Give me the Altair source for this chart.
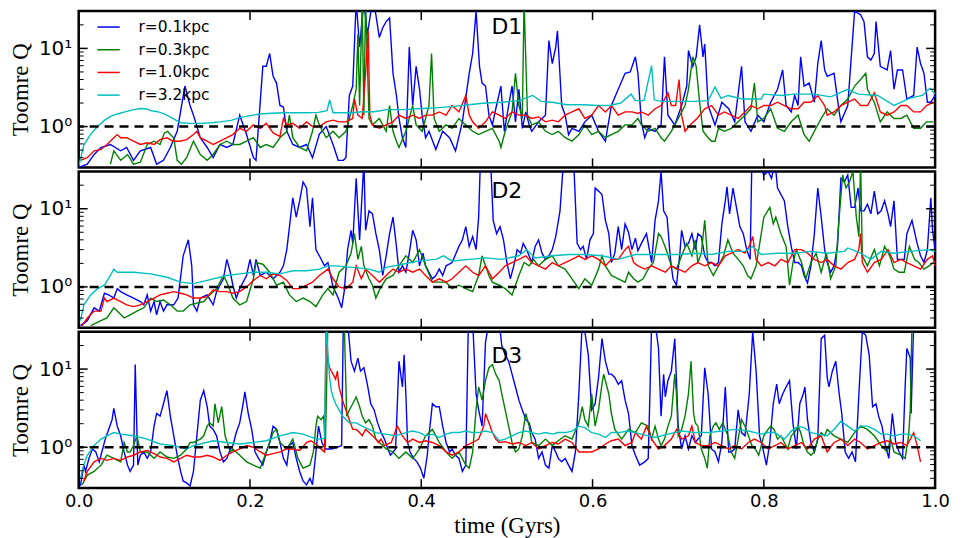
import altair as alt
import pandas as pd

SERIES = ["r=0.1kpc", "r=0.3kpc", "r=1.0kpc", "r=3.2kpc"]
COLORS = ["#0000ff", "#008000", "#ff0000", "#00bfbf"]
PANEL_NAMES = ["D1", "D2", "D3"]
X_LABELS = [0.0, 0.2, 0.4, 0.6, 0.8, 1.0]
X_TICKS = [0.2, 0.4, 0.6, 0.8]
Y_LABELS = [1, 10]
Y_MINOR = [0.4, 0.5, 0.6, 0.7, 0.8, 0.9, 2, 3, 4, 5, 6, 7, 8, 9, 20]
Q_CRIT = 1.0

# ---------------- D1 ----------------
D1_R01 = [(0.0,0.30),(0.01,0.33),(0.018,0.44),(0.026,0.54),(0.037,0.59),(0.049,0.49),(0.056,0.54),(0.064,0.37),(0.072,0.49),(0.084,0.54),(0.091,0.33),(0.099,0.37),(0.107,0.54),(0.115,0.87),(0.124,3.3),(0.13,1.86),(0.134,1.4),(0.142,0.72),(0.15,0.54),(0.157,0.40),(0.165,0.59),(0.173,0.54),(0.18,0.59),(0.188,1.4),(0.196,0.79),(0.204,0.40),(0.207,0.37),(0.215,5.9),(0.219,5.9),(0.223,8.6),(0.227,4.4),(0.231,3.6),(0.235,1.86),(0.239,1.78),(0.243,0.87),(0.25,0.59),(0.258,0.54),(0.266,0.59),(0.273,0.40),(0.281,0.8),(0.289,1.0),(0.297,0.59),(0.303,0.37),(0.309,0.37),(0.312,0.40),(0.316,2.5),(0.32,3.3),(0.324,40),(0.328,10.4),(0.333,40),(0.337,15),(0.343,40),(0.347,27),(0.351,13.8),(0.355,18.4),(0.359,22),(0.363,24.5),(0.367,4.8),(0.371,2.5),(0.374,1.27),(0.378,0.72),(0.382,0.54),(0.386,10.4),(0.39,1.86),(0.394,5.9),(0.398,3.0),(0.401,1.4),(0.405,0.72),(0.409,0.87),(0.417,0.51),(0.425,0.87),(0.433,0.72),(0.44,0.49),(0.448,1.15),(0.456,4.8),(0.46,8.6),(0.464,30),(0.468,5.9),(0.471,3.6),(0.475,3.3),(0.479,1.4),(0.483,1.05),(0.487,1.69),(0.493,3.3),(0.497,0.87),(0.502,1.86),(0.506,3.3),(0.51,1.15),(0.514,3.0),(0.518,0.95),(0.522,1.54),(0.526,1.05),(0.529,0.87),(0.537,1.15),(0.545,1.4),(0.549,12.6),(0.553,6.4),(0.557,10.4),(0.559,16.8),(0.561,7.1),(0.564,1.86),(0.568,1.4),(0.572,0.79),(0.576,0.95),(0.584,0.87),(0.591,1.15),(0.599,1.4),(0.607,0.87),(0.615,0.65),(0.622,1.86),(0.63,3.0),(0.638,4.8),(0.644,5.0),(0.65,7.8),(0.653,4.8),(0.657,1.15),(0.661,0.72),(0.665,0.95),(0.673,0.87),(0.68,1.05),(0.684,7.8),(0.688,1.4),(0.696,1.05),(0.704,1.86),(0.71,3.3),(0.712,9.4),(0.717,5.9),(0.721,7.8),(0.725,20),(0.729,7.8),(0.731,11.4),(0.735,1.86),(0.743,1.05),(0.751,2.05),(0.759,1.69),(0.766,1.15),(0.774,5.9),(0.778,1.15),(0.785,0.87),(0.793,1.4),(0.8,1.15),(0.808,2.05),(0.816,3.0),(0.822,5.3),(0.826,1.86),(0.832,1.54),(0.836,2.5),(0.84,1.86),(0.843,7.8),(0.847,3.3),(0.853,3.6),(0.859,2.05),(0.863,6.4),(0.867,12.6),(0.871,5.3),(0.874,4.4),(0.882,4.8),(0.888,1.54),(0.89,1.15),(0.898,1.86),(0.906,30),(0.913,27),(0.917,22),(0.921,7.8),(0.925,7.1),(0.929,8.6),(0.931,22),(0.936,5.9),(0.944,5.3),(0.948,9.4),(0.952,3.0),(0.956,5.3),(0.962,5.3),(0.967,2.25),(0.975,2.5),(0.979,10.4),(0.983,6.4),(0.987,4.8),(0.991,2.05),(0.995,2.05),(1.0,2.5)]
D1_R03 = [(0.037,0.33),(0.041,0.49),(0.049,0.37),(0.057,0.44),(0.064,0.33),(0.072,0.35),(0.08,0.59),(0.088,0.65),(0.095,0.59),(0.1,0.83),(0.104,0.87),(0.107,0.79),(0.111,0.72),(0.115,0.37),(0.12,0.33),(0.126,0.40),(0.134,0.65),(0.142,0.44),(0.15,0.37),(0.157,0.44),(0.165,0.59),(0.173,0.65),(0.18,0.59),(0.188,0.59),(0.196,0.65),(0.204,0.72),(0.212,0.54),(0.219,0.59),(0.227,0.54),(0.235,0.72),(0.243,0.87),(0.246,1.4),(0.25,0.72),(0.258,0.54),(0.266,0.49),(0.273,0.87),(0.277,1.4),(0.281,1.05),(0.289,0.72),(0.297,0.87),(0.304,0.72),(0.312,0.87),(0.32,1.86),(0.324,3.0),(0.326,15.2),(0.328,1.86),(0.331,40),(0.333,1.4),(0.335,40),(0.339,1.27),(0.343,1.05),(0.351,1.27),(0.359,0.87),(0.363,1.86),(0.367,0.87),(0.371,0.65),(0.374,0.54),(0.382,0.87),(0.39,1.86),(0.394,1.05),(0.401,0.87),(0.405,1.27),(0.409,1.86),(0.412,8.6),(0.415,1.27),(0.421,0.87),(0.429,1.05),(0.436,0.95),(0.444,1.27),(0.452,1.05),(0.46,0.87),(0.467,0.79),(0.475,0.87),(0.483,0.95),(0.491,0.65),(0.493,0.54),(0.498,0.87),(0.506,1.54),(0.51,4.8),(0.514,1.86),(0.518,1.27),(0.52,40),(0.524,1.4),(0.529,1.05),(0.537,1.15),(0.545,0.87),(0.553,0.79),(0.56,0.87),(0.568,0.72),(0.576,0.65),(0.584,0.79),(0.591,1.05),(0.599,0.79),(0.607,0.87),(0.615,0.72),(0.622,0.79),(0.63,0.87),(0.638,1.05),(0.646,1.05),(0.653,1.27),(0.657,1.05),(0.665,0.87),(0.673,0.95),(0.68,0.72),(0.684,0.65),(0.692,0.87),(0.7,1.27),(0.708,1.86),(0.712,3.0),(0.717,7.8),(0.721,5.9),(0.725,2.05),(0.729,0.87),(0.735,0.72),(0.739,0.65),(0.743,0.65),(0.747,0.95),(0.754,0.87),(0.762,0.95),(0.77,1.15),(0.778,1.4),(0.785,1.69),(0.789,3.6),(0.793,1.15),(0.8,1.27),(0.808,1.69),(0.816,0.95),(0.824,0.87),(0.832,1.15),(0.84,1.4),(0.847,0.79),(0.853,0.65),(0.859,0.87),(0.867,1.27),(0.874,1.69),(0.882,1.4),(0.89,1.86),(0.898,2.25),(0.906,3.3),(0.913,4.0),(0.919,4.8),(0.921,3.0),(0.929,2.05),(0.936,1.15),(0.944,1.54),(0.952,1.27),(0.96,1.27),(0.967,1.4),(0.975,0.95),(0.983,0.95),(0.99,1.15),(0.998,1.15)]
D1_R10 = [(0.002,0.37),(0.01,0.40),(0.018,0.49),(0.026,0.51),(0.033,0.59),(0.041,0.72),(0.045,0.79),(0.049,0.72),(0.056,0.72),(0.064,0.65),(0.072,0.59),(0.08,0.62),(0.088,0.59),(0.095,0.68),(0.103,0.72),(0.11,0.65),(0.118,0.65),(0.126,0.68),(0.134,0.79),(0.138,0.87),(0.142,0.72),(0.15,0.65),(0.157,0.59),(0.165,0.65),(0.173,0.72),(0.18,0.79),(0.188,0.95),(0.196,0.87),(0.204,1.05),(0.212,0.95),(0.219,1.10),(0.227,0.83),(0.235,0.75),(0.239,1.27),(0.243,1.05),(0.25,1.10),(0.258,0.95),(0.266,1.15),(0.273,1.0),(0.281,1.0),(0.289,1.15),(0.297,1.21),(0.304,1.15),(0.312,1.15),(0.32,1.27),(0.322,2.25),(0.326,1.40),(0.331,1.27),(0.335,4.8),(0.338,16.8),(0.34,1.4),(0.343,1.05),(0.351,0.95),(0.359,1.05),(0.367,1.15),(0.374,1.40),(0.382,1.27),(0.39,1.40),(0.398,1.27),(0.405,1.40),(0.413,1.40),(0.421,1.54),(0.429,1.40),(0.436,1.86),(0.444,1.54),(0.452,2.5),(0.456,1.40),(0.46,1.15),(0.467,0.95),(0.475,1.15),(0.483,1.54),(0.491,1.40),(0.498,1.27),(0.506,1.54),(0.514,1.40),(0.522,1.40),(0.529,1.27),(0.537,1.33),(0.545,1.15),(0.553,1.21),(0.56,1.15),(0.568,1.40),(0.576,1.54),(0.584,1.69),(0.591,1.27),(0.599,1.40),(0.607,1.86),(0.615,1.54),(0.622,1.86),(0.63,1.40),(0.638,1.54),(0.646,1.54),(0.653,1.47),(0.657,1.54),(0.665,1.40),(0.673,1.69),(0.68,1.86),(0.688,2.7),(0.692,1.86),(0.697,1.86),(0.701,4.0),(0.704,1.40),(0.708,0.87),(0.714,1.05),(0.722,1.27),(0.731,1.69),(0.739,1.86),(0.747,1.40),(0.754,1.54),(0.762,1.40),(0.77,1.27),(0.778,1.54),(0.785,1.86),(0.793,1.69),(0.8,1.86),(0.808,1.86),(0.816,2.05),(0.824,1.86),(0.832,1.69),(0.84,1.69),(0.847,2.05),(0.855,2.05),(0.863,2.5),(0.871,1.86),(0.874,1.40),(0.882,1.54),(0.89,1.86),(0.898,2.05),(0.906,2.25),(0.913,1.86),(0.921,1.86),(0.929,2.7),(0.936,1.54),(0.944,1.40),(0.952,1.54),(0.96,1.86),(0.967,1.86),(0.975,1.54),(0.983,1.54),(0.99,1.86),(0.998,2.05)]
D1_R32 = [(0.0,0.31),(0.006,0.58),(0.014,0.8),(0.022,1.0),(0.03,1.2),(0.037,1.35),(0.045,1.45),(0.055,1.55),(0.065,1.65),(0.072,1.7),(0.08,1.68),(0.084,1.6),(0.092,1.55),(0.1,1.45),(0.108,1.3),(0.115,1.18),(0.119,1.12),(0.13,1.1),(0.142,1.1),(0.155,1.12),(0.165,1.15),(0.178,1.2),(0.188,1.3),(0.2,1.38),(0.212,1.45),(0.225,1.48),(0.24,1.5),(0.255,1.5),(0.266,1.5),(0.28,1.52),(0.29,1.6),(0.293,2.2),(0.297,1.5),(0.31,1.5),(0.32,1.5),(0.33,1.55),(0.345,1.55),(0.36,1.65),(0.38,1.65),(0.4,1.7),(0.42,1.75),(0.436,1.8),(0.455,1.9),(0.475,2.0),(0.495,2.05),(0.514,2.15),(0.53,2.5),(0.54,2.1),(0.553,2.05),(0.57,1.9),(0.59,1.9),(0.605,1.86),(0.62,1.86),(0.633,2.0),(0.645,2.6),(0.65,2.15),(0.66,2.15),(0.669,6.0),(0.672,2.2),(0.68,2.1),(0.7,2.1),(0.72,2.1),(0.735,2.15),(0.743,3.2),(0.75,2.3),(0.758,2.5),(0.775,2.25),(0.797,2.25),(0.8,2.6),(0.82,2.5),(0.836,2.6),(0.859,2.6),(0.878,2.4),(0.898,3.0),(0.91,2.6),(0.933,2.5),(0.952,1.86),(0.97,2.3),(0.985,2.5),(0.994,3.1),(1.0,2.6)]

# ---------------- D2 ----------------
D2_R01 = [(0.002,0.32),(0.01,0.37),(0.018,0.54),(0.024,0.49),(0.03,0.83),(0.035,0.79),(0.041,0.72),(0.045,0.95),(0.049,0.87),(0.056,0.79),(0.064,0.72),(0.072,0.65),(0.076,0.59),(0.08,0.79),(0.084,0.49),(0.088,0.65),(0.091,0.44),(0.095,0.65),(0.099,0.49),(0.103,0.59),(0.111,0.59),(0.116,0.72),(0.122,2.5),(0.128,4.0),(0.132,1.86),(0.134,0.59),(0.138,0.49),(0.142,0.72),(0.15,0.79),(0.157,0.59),(0.161,0.87),(0.165,1.05),(0.169,1.27),(0.173,2.25),(0.177,1.54),(0.18,1.05),(0.184,0.72),(0.188,0.95),(0.196,1.40),(0.2,2.25),(0.204,1.40),(0.207,2.25),(0.212,1.40),(0.219,1.54),(0.227,1.27),(0.235,1.54),(0.239,1.86),(0.243,3.0),(0.25,13.8),(0.254,7.8),(0.258,12.6),(0.262,22),(0.266,18.4),(0.27,5.9),(0.273,13.8),(0.277,3.0),(0.281,2.5),(0.287,1.86),(0.291,2.05),(0.297,1.0),(0.303,0.72),(0.307,0.54),(0.31,0.87),(0.314,3.0),(0.318,5.3),(0.32,3.6),(0.324,24.5),(0.328,4.0),(0.333,40),(0.335,5.3),(0.339,9.4),(0.343,8.6),(0.347,4.8),(0.351,3.0),(0.355,1.40),(0.359,2.5),(0.363,4.8),(0.367,7.8),(0.371,3.3),(0.374,1.54),(0.378,1.86),(0.382,1.54),(0.386,2.7),(0.39,5.3),(0.394,4.0),(0.398,1.86),(0.402,2.7),(0.405,1.86),(0.409,1.54),(0.413,1.27),(0.417,1.40),(0.421,1.69),(0.425,1.40),(0.429,1.86),(0.436,2.05),(0.444,3.3),(0.448,4.0),(0.452,5.9),(0.456,3.3),(0.46,4.4),(0.464,3.0),(0.467,7.8),(0.469,40),(0.475,40),(0.481,40),(0.484,7.1),(0.488,4.8),(0.492,5.9),(0.496,4.0),(0.5,2.05),(0.504,1.27),(0.508,1.86),(0.512,3.0),(0.516,2.7),(0.519,3.6),(0.523,3.0),(0.529,2.05),(0.533,3.3),(0.537,4.0),(0.541,2.7),(0.545,2.25),(0.549,2.5),(0.553,3.0),(0.557,4.4),(0.562,9.4),(0.566,40),(0.572,40),(0.578,40),(0.582,3.6),(0.586,3.0),(0.589,3.3),(0.593,2.25),(0.597,4.0),(0.601,4.8),(0.603,18.4),(0.607,16.8),(0.611,15.2),(0.615,7.1),(0.619,4.8),(0.622,2.05),(0.626,2.7),(0.63,5.9),(0.634,3.0),(0.638,6.4),(0.642,5.0),(0.646,3.0),(0.65,4.2),(0.653,2.9),(0.657,3.6),(0.663,4.8),(0.669,2.05),(0.673,7.1),(0.677,12.6),(0.68,30),(0.683,9.4),(0.687,7.8),(0.691,2.25),(0.694,1.27),(0.698,1.05),(0.702,2.7),(0.704,5.3),(0.708,3.3),(0.712,3.6),(0.716,4.8),(0.72,3.0),(0.723,4.8),(0.727,4.4),(0.731,2.5),(0.735,2.05),(0.739,2.05),(0.743,1.86),(0.747,2.05),(0.751,6.4),(0.755,12.6),(0.757,19),(0.76,8.6),(0.764,18.4),(0.768,10.4),(0.772,5.9),(0.776,4.8),(0.78,3.0),(0.784,2.25),(0.786,40),(0.793,40),(0.8,27),(0.805,30),(0.809,24.5),(0.813,40),(0.816,18.4),(0.82,15.2),(0.824,12.6),(0.828,5.9),(0.832,3.3),(0.836,2.05),(0.84,2.05),(0.844,1.86),(0.847,1.40),(0.851,1.12),(0.855,1.86),(0.859,4.8),(0.863,18.4),(0.867,7.8),(0.871,3.0),(0.874,2.05),(0.878,1.54),(0.882,1.86),(0.886,3.3),(0.89,24.5),(0.894,22),(0.898,27),(0.902,10.4),(0.906,10.4),(0.91,18.4),(0.913,9.4),(0.917,9.4),(0.921,11.4),(0.925,8.6),(0.929,16.8),(0.933,8.6),(0.937,9.4),(0.941,12.6),(0.945,8.6),(0.948,5.9),(0.952,12.6),(0.956,2.25),(0.96,2.25),(0.964,2.25),(0.967,4.8),(0.973,7.1),(0.979,3.6),(0.983,2.5),(0.987,2.05),(0.991,3.0),(0.995,13.8),(0.997,5.3),(1.0,3.0)]
D2_R03 = [(0.014,0.32),(0.026,0.37),(0.033,0.40),(0.041,0.54),(0.045,0.49),(0.053,0.40),(0.06,0.44),(0.068,0.49),(0.076,0.54),(0.084,0.72),(0.091,0.65),(0.099,0.68),(0.107,0.59),(0.115,0.49),(0.122,0.49),(0.13,0.59),(0.138,0.62),(0.146,0.65),(0.153,0.79),(0.161,0.95),(0.169,1.40),(0.173,1.15),(0.18,0.72),(0.188,0.59),(0.196,0.65),(0.204,1.27),(0.207,2.05),(0.215,1.95),(0.223,1.54),(0.231,1.05),(0.239,1.15),(0.246,0.79),(0.254,0.65),(0.262,0.72),(0.27,0.65),(0.277,0.56),(0.285,0.79),(0.291,0.95),(0.297,0.79),(0.304,1.54),(0.312,1.86),(0.318,2.7),(0.322,4.8),(0.326,2.25),(0.33,3.3),(0.333,1.86),(0.339,1.27),(0.343,1.05),(0.347,0.72),(0.351,0.91),(0.359,1.27),(0.367,1.40),(0.374,1.86),(0.382,2.5),(0.39,2.05),(0.398,3.0),(0.405,1.86),(0.413,1.15),(0.421,1.15),(0.429,1.15),(0.436,0.95),(0.444,1.05),(0.452,0.95),(0.46,0.87),(0.464,1.15),(0.467,1.40),(0.471,2.5),(0.475,1.86),(0.479,1.40),(0.483,1.15),(0.491,1.05),(0.498,0.95),(0.506,0.79),(0.514,1.40),(0.52,2.05),(0.526,1.86),(0.531,2.25),(0.537,1.86),(0.545,2.25),(0.553,2.5),(0.56,1.86),(0.568,1.69),(0.576,1.27),(0.584,0.95),(0.591,1.27),(0.599,1.05),(0.607,1.69),(0.611,2.5),(0.615,1.86),(0.622,1.40),(0.63,1.27),(0.638,1.15),(0.642,1.54),(0.648,1.27),(0.653,1.15),(0.659,1.27),(0.665,1.69),(0.671,2.05),(0.677,4.8),(0.68,4.4),(0.686,3.0),(0.692,1.86),(0.698,1.69),(0.704,2.5),(0.71,3.6),(0.716,2.5),(0.72,4.0),(0.723,2.05),(0.727,2.7),(0.731,7.1),(0.735,1.86),(0.741,1.40),(0.747,1.86),(0.753,2.5),(0.758,4.0),(0.764,2.7),(0.77,2.25),(0.776,1.86),(0.781,1.40),(0.785,1.27),(0.791,1.86),(0.797,4.8),(0.8,7.8),(0.807,10.4),(0.811,6.4),(0.814,7.8),(0.82,4.8),(0.826,3.3),(0.83,1.05),(0.834,2.05),(0.838,3.0),(0.844,2.05),(0.849,1.27),(0.855,2.05),(0.861,2.7),(0.867,1.54),(0.873,2.7),(0.878,1.27),(0.884,1.86),(0.888,7.8),(0.892,27),(0.896,18.4),(0.9,22),(0.904,30),(0.908,7.8),(0.911,4.4),(0.913,40),(0.915,2.5),(0.921,1.86),(0.929,3.0),(0.935,1.86),(0.941,3.3),(0.947,2.5),(0.952,1.69),(0.958,1.54),(0.964,1.54),(0.97,3.3),(0.976,2.25),(0.981,2.05),(0.987,1.69),(0.993,1.86),(0.998,2.05)]
D2_R10 = [(0.004,0.32),(0.01,0.40),(0.018,0.49),(0.026,0.49),(0.03,0.72),(0.033,0.65),(0.041,0.72),(0.049,0.65),(0.056,0.59),(0.064,0.56),(0.072,0.59),(0.08,0.65),(0.088,0.72),(0.095,0.79),(0.103,0.83),(0.111,0.87),(0.119,0.83),(0.126,0.79),(0.134,0.72),(0.142,0.72),(0.15,0.75),(0.157,0.91),(0.165,0.87),(0.173,0.87),(0.18,0.83),(0.188,0.87),(0.196,1.0),(0.204,1.21),(0.212,1.40),(0.219,1.27),(0.227,1.47),(0.235,1.40),(0.243,1.21),(0.25,0.95),(0.258,0.95),(0.266,1.05),(0.273,1.15),(0.281,1.40),(0.291,1.69),(0.297,1.27),(0.304,1.0),(0.312,0.95),(0.32,1.15),(0.324,1.86),(0.33,1.27),(0.335,1.69),(0.343,1.40),(0.351,1.15),(0.359,1.40),(0.367,1.69),(0.374,1.54),(0.382,1.69),(0.39,1.54),(0.398,1.69),(0.405,1.40),(0.413,1.15),(0.421,1.27),(0.429,1.15),(0.436,1.27),(0.444,1.54),(0.452,1.86),(0.46,1.54),(0.467,1.40),(0.475,1.86),(0.483,1.27),(0.491,1.54),(0.498,1.86),(0.506,2.05),(0.514,2.25),(0.522,2.5),(0.529,2.05),(0.537,1.86),(0.545,1.69),(0.553,2.05),(0.56,1.86),(0.568,2.05),(0.576,2.25),(0.584,2.5),(0.591,2.25),(0.599,2.5),(0.607,2.25),(0.615,1.86),(0.622,2.25),(0.63,2.25),(0.638,3.0),(0.642,3.3),(0.648,2.05),(0.653,1.86),(0.661,1.69),(0.669,1.86),(0.677,1.69),(0.685,1.54),(0.692,1.86),(0.7,1.69),(0.708,1.54),(0.716,1.86),(0.723,2.05),(0.731,1.86),(0.739,2.05),(0.747,1.86),(0.755,2.5),(0.762,2.7),(0.77,3.0),(0.778,2.7),(0.783,3.3),(0.787,4.4),(0.791,2.25),(0.797,1.86),(0.805,2.05),(0.813,1.86),(0.82,2.25),(0.828,2.05),(0.836,3.0),(0.844,3.0),(0.851,2.7),(0.859,2.25),(0.867,2.05),(0.874,2.25),(0.882,1.86),(0.89,1.69),(0.898,2.05),(0.906,2.25),(0.911,3.0),(0.913,4.8),(0.915,2.05),(0.921,1.54),(0.929,2.05),(0.937,2.25),(0.945,3.0),(0.952,2.05),(0.96,2.25),(0.967,2.05),(0.975,1.86),(0.983,1.69),(0.991,2.25),(0.997,2.5),(1.0,1.86)]
D2_R32 = [(0.002,0.37),(0.006,0.59),(0.014,0.79),(0.022,0.95),(0.03,1.05),(0.037,1.40),(0.041,1.69),(0.045,1.54),(0.064,1.54),(0.084,1.47),(0.103,1.33),(0.119,1.15),(0.134,1.10),(0.15,1.21),(0.173,1.40),(0.188,1.47),(0.204,1.54),(0.219,1.54),(0.235,1.47),(0.25,1.61),(0.266,1.61),(0.281,1.69),(0.291,1.86),(0.3,1.86),(0.32,1.78),(0.339,1.69),(0.351,1.54),(0.359,1.78),(0.378,1.95),(0.398,2.15),(0.417,2.25),(0.426,2.5),(0.436,2.15),(0.456,2.25),(0.475,2.35),(0.494,2.25),(0.514,2.5),(0.523,3.0),(0.533,2.35),(0.553,2.5),(0.572,2.6),(0.591,2.6),(0.611,2.5),(0.63,2.25),(0.65,2.6),(0.661,2.6),(0.68,2.6),(0.7,2.6),(0.72,2.7),(0.739,2.6),(0.758,2.85),(0.778,2.85),(0.787,3.3),(0.797,2.6),(0.816,2.7),(0.836,2.7),(0.855,2.85),(0.874,2.7),(0.894,2.85),(0.898,3.15),(0.913,2.7),(0.925,2.25),(0.937,2.85),(0.952,2.7),(0.971,2.85),(0.991,3.0),(1.0,2.85)]

# ---------------- D3 ----------------
D3_R01 = [(0.002,0.32),(0.006,0.59),(0.008,0.49),(0.012,0.72),(0.016,0.95),(0.02,0.87),(0.024,0.65),(0.027,0.87),(0.031,1.27),(0.035,1.69),(0.039,2.25),(0.041,3.15),(0.045,1.86),(0.049,1.40),(0.053,0.87),(0.057,0.59),(0.06,0.49),(0.064,0.59),(0.066,11.4),(0.069,0.59),(0.072,0.79),(0.076,0.87),(0.08,0.72),(0.084,0.87),(0.088,1.86),(0.091,2.7),(0.095,2.5),(0.099,3.6),(0.103,5.3),(0.107,2.5),(0.111,1.40),(0.115,0.79),(0.119,0.49),(0.122,0.37),(0.126,0.35),(0.13,0.32),(0.134,0.49),(0.138,1.40),(0.142,4.0),(0.146,5.3),(0.15,3.3),(0.153,1.86),(0.157,1.69),(0.161,1.40),(0.165,0.87),(0.169,0.65),(0.173,0.72),(0.177,0.95),(0.18,1.05),(0.184,1.54),(0.188,2.05),(0.192,3.6),(0.194,5.1),(0.198,2.7),(0.202,1.69),(0.206,0.87),(0.21,0.72),(0.215,0.59),(0.219,0.87),(0.223,1.15),(0.227,1.86),(0.231,1.69),(0.235,1.15),(0.239,0.72),(0.243,0.59),(0.246,1.05),(0.25,1.15),(0.254,0.72),(0.258,0.49),(0.262,0.37),(0.266,0.33),(0.27,0.40),(0.273,0.33),(0.277,0.87),(0.28,1.86),(0.284,1.15),(0.288,0.95),(0.295,0.95),(0.302,1.0),(0.307,1.05),(0.309,40),(0.314,40),(0.318,12.6),(0.322,9.4),(0.326,13.8),(0.329,9.4),(0.333,10.4),(0.337,6.4),(0.341,3.6),(0.345,3.0),(0.349,2.05),(0.353,1.54),(0.357,1.27),(0.361,0.95),(0.364,0.79),(0.37,0.95),(0.374,12.6),(0.378,5.9),(0.38,15.2),(0.382,4.8),(0.384,1.15),(0.387,0.87),(0.391,0.72),(0.395,0.65),(0.399,0.54),(0.403,0.40),(0.407,0.79),(0.409,1.40),(0.413,3.6),(0.417,3.3),(0.421,3.3),(0.425,1.86),(0.429,1.15),(0.433,0.87),(0.436,0.95),(0.44,0.79),(0.444,0.72),(0.448,0.49),(0.452,0.59),(0.455,40),(0.46,40),(0.464,4.8),(0.467,3.0),(0.471,1.86),(0.475,22),(0.479,40),(0.491,40),(0.494,20),(0.498,15.2),(0.502,12.6),(0.506,8.6),(0.51,5.9),(0.514,4.0),(0.518,3.0),(0.522,2.25),(0.526,2.05),(0.529,1.54),(0.533,1.27),(0.537,0.72),(0.541,0.87),(0.545,0.59),(0.549,0.54),(0.553,1.05),(0.557,0.87),(0.56,0.72),(0.564,0.65),(0.568,0.72),(0.572,0.59),(0.576,0.49),(0.58,0.87),(0.584,4.8),(0.588,40),(0.591,30),(0.595,15.2),(0.599,3.0),(0.603,3.6),(0.607,7.8),(0.611,24.5),(0.615,12.6),(0.619,8.6),(0.622,8.6),(0.626,7.8),(0.63,6.4),(0.634,7.1),(0.638,4.0),(0.642,2.7),(0.646,1.05),(0.65,0.79),(0.655,0.59),(0.661,0.65),(0.665,0.72),(0.667,4.8),(0.669,40),(0.673,40),(0.677,18.4),(0.68,2.5),(0.683,8.6),(0.685,4.4),(0.688,7.1),(0.692,9.4),(0.696,24.5),(0.698,7.1),(0.7,1.86),(0.704,0.95),(0.708,1.40),(0.712,0.95),(0.716,1.40),(0.72,1.15),(0.723,1.27),(0.727,1.40),(0.731,10.4),(0.735,4.8),(0.739,0.95),(0.743,0.87),(0.747,0.65),(0.751,1.15),(0.755,5.9),(0.759,0.87),(0.762,0.87),(0.766,0.95),(0.77,3.0),(0.774,1.54),(0.778,1.40),(0.783,4.8),(0.787,30),(0.791,9.4),(0.795,1.40),(0.799,0.95),(0.803,0.59),(0.807,1.15),(0.811,3.6),(0.815,6.4),(0.818,3.6),(0.822,4.8),(0.826,5.9),(0.83,7.1),(0.834,2.05),(0.838,0.95),(0.842,3.6),(0.846,4.8),(0.848,5.9),(0.851,2.25),(0.855,1.15),(0.859,0.87),(0.863,1.27),(0.867,24.5),(0.871,27),(0.874,7.8),(0.876,5.9),(0.88,9.4),(0.884,12.6),(0.888,4.8),(0.891,2.7),(0.895,0.87),(0.899,0.72),(0.903,0.87),(0.907,0.65),(0.911,4.8),(0.915,30),(0.919,27),(0.923,15.2),(0.927,3.3),(0.931,3.6),(0.934,2.5),(0.938,1.86),(0.942,1.05),(0.946,0.72),(0.95,2.7),(0.954,1.15),(0.958,0.87),(0.962,0.72),(0.965,5.9),(0.967,18.4),(0.971,13.8),(0.972,2.7),(0.975,40)]
D3_R03 = [(0.004,0.33),(0.01,0.44),(0.018,0.49),(0.026,0.59),(0.033,0.79),(0.041,0.72),(0.049,0.65),(0.053,1.15),(0.057,0.87),(0.06,0.87),(0.064,1.05),(0.068,1.40),(0.072,0.87),(0.08,0.87),(0.088,0.72),(0.095,0.87),(0.103,0.75),(0.111,0.72),(0.119,0.79),(0.126,0.95),(0.13,1.15),(0.134,1.15),(0.142,1.27),(0.146,1.40),(0.15,1.86),(0.153,2.05),(0.157,1.86),(0.159,3.6),(0.163,2.05),(0.167,3.3),(0.171,1.40),(0.177,0.87),(0.18,0.95),(0.188,0.79),(0.196,0.65),(0.204,0.59),(0.212,0.54),(0.219,0.87),(0.223,1.15),(0.227,1.54),(0.231,1.69),(0.235,1.15),(0.243,0.95),(0.25,1.27),(0.256,0.72),(0.262,0.54),(0.27,0.59),(0.274,0.87),(0.277,1.86),(0.279,2.5),(0.283,2.25),(0.286,2.5),(0.288,1.0),(0.291,40),(0.3,40),(0.31,40),(0.313,2.5),(0.316,3.0),(0.32,3.6),(0.324,4.4),(0.328,3.3),(0.331,2.5),(0.335,2.05),(0.339,2.25),(0.343,1.86),(0.347,1.27),(0.351,1.15),(0.355,1.05),(0.359,0.95),(0.367,0.87),(0.374,0.72),(0.382,0.87),(0.39,0.72),(0.398,0.95),(0.405,1.40),(0.413,1.69),(0.421,1.15),(0.429,0.87),(0.436,0.72),(0.444,0.87),(0.452,0.59),(0.456,0.54),(0.46,0.87),(0.464,3.0),(0.467,5.9),(0.471,4.0),(0.475,7.1),(0.479,10.4),(0.483,11.4),(0.487,8.6),(0.491,7.1),(0.494,4.8),(0.498,3.0),(0.502,1.86),(0.506,1.15),(0.51,0.87),(0.514,0.95),(0.518,1.40),(0.522,2.7),(0.526,1.86),(0.529,1.15),(0.537,1.05),(0.545,1.27),(0.553,1.05),(0.56,1.21),(0.568,1.40),(0.576,1.27),(0.584,2.05),(0.588,3.3),(0.591,2.25),(0.595,1.86),(0.599,4.8),(0.603,1.86),(0.607,3.0),(0.611,6.4),(0.613,8.6),(0.619,4.8),(0.622,2.7),(0.626,1.69),(0.634,1.27),(0.642,1.69),(0.65,1.54),(0.657,2.05),(0.665,1.86),(0.669,1.27),(0.673,1.86),(0.677,1.27),(0.68,1.05),(0.684,1.27),(0.688,1.86),(0.692,2.5),(0.696,8.6),(0.698,4.8),(0.7,1.40),(0.704,1.69),(0.708,2.5),(0.712,4.8),(0.715,12.6),(0.718,2.7),(0.72,2.05),(0.723,1.86),(0.727,0.95),(0.731,0.72),(0.734,0.54),(0.737,1.40),(0.741,1.86),(0.744,2.05),(0.748,1.69),(0.752,2.05),(0.758,1.40),(0.762,0.87),(0.766,0.72),(0.77,1.27),(0.774,2.25),(0.778,1.86),(0.782,1.40),(0.786,1.05),(0.79,0.95),(0.794,0.79),(0.797,1.05),(0.8,1.40),(0.805,1.69),(0.808,1.86),(0.812,1.69),(0.816,1.27),(0.82,1.40),(0.824,1.15),(0.828,0.95),(0.832,1.40),(0.836,1.54),(0.84,1.86),(0.843,1.54),(0.847,1.05),(0.851,0.87),(0.855,0.79),(0.859,0.87),(0.863,1.27),(0.867,1.54),(0.871,1.40),(0.874,1.69),(0.882,1.40),(0.89,1.27),(0.898,1.15),(0.906,1.54),(0.913,1.86),(0.921,1.69),(0.929,1.40),(0.937,1.05),(0.944,0.87),(0.948,1.27),(0.952,0.87),(0.96,0.79),(0.965,0.72),(0.969,1.40),(0.971,3.0),(0.973,40)]
D3_R10 = [(0.006,0.37),(0.01,0.49),(0.018,0.65),(0.026,0.72),(0.033,0.68),(0.041,0.72),(0.049,0.68),(0.057,0.75),(0.064,0.79),(0.072,0.87),(0.08,0.91),(0.088,0.83),(0.095,0.75),(0.103,0.72),(0.111,0.65),(0.119,0.72),(0.126,0.79),(0.134,0.75),(0.142,0.75),(0.15,0.79),(0.157,0.75),(0.165,0.68),(0.173,0.79),(0.18,0.87),(0.188,0.95),(0.196,1.05),(0.204,1.0),(0.212,0.87),(0.219,0.79),(0.227,0.83),(0.235,0.87),(0.243,0.95),(0.25,0.95),(0.258,0.91),(0.266,1.15),(0.271,1.21),(0.277,1.10),(0.283,0.95),(0.287,0.87),(0.289,40),(0.291,12.6),(0.293,10.4),(0.297,8.6),(0.3,7.4),(0.302,9.4),(0.304,5.9),(0.308,4.0),(0.312,3.0),(0.316,2.25),(0.32,1.69),(0.324,1.69),(0.328,1.54),(0.331,1.40),(0.335,1.69),(0.339,1.54),(0.343,1.40),(0.347,1.27),(0.35,1.15),(0.353,1.27),(0.357,1.05),(0.365,1.15),(0.372,1.86),(0.378,1.40),(0.384,1.15),(0.39,1.27),(0.398,1.15),(0.405,1.21),(0.413,1.15),(0.421,1.05),(0.429,0.87),(0.436,0.79),(0.444,0.87),(0.452,1.05),(0.46,1.15),(0.467,1.27),(0.473,1.86),(0.475,2.7),(0.479,2.05),(0.483,1.54),(0.487,1.27),(0.491,1.15),(0.498,1.18),(0.506,1.10),(0.514,1.15),(0.522,1.05),(0.529,1.15),(0.537,0.95),(0.545,1.05),(0.553,1.15),(0.56,1.10),(0.568,1.27),(0.576,1.15),(0.584,0.87),(0.591,0.87),(0.599,0.87),(0.607,0.95),(0.615,1.10),(0.622,1.21),(0.63,1.27),(0.638,1.05),(0.646,1.15),(0.65,1.54),(0.657,1.27),(0.663,1.86),(0.669,1.27),(0.677,0.95),(0.684,1.05),(0.692,1.27),(0.698,1.69),(0.704,1.27),(0.712,1.40),(0.716,1.86),(0.72,1.15),(0.727,1.05),(0.735,1.05),(0.743,1.15),(0.751,1.05),(0.759,0.95),(0.766,1.05),(0.774,0.95),(0.782,1.15),(0.789,1.27),(0.797,1.15),(0.805,0.95),(0.813,1.05),(0.82,1.15),(0.828,0.95),(0.836,1.05),(0.844,1.15),(0.851,0.95),(0.859,1.27),(0.867,1.40),(0.874,0.87),(0.882,1.15),(0.89,1.27),(0.898,1.05),(0.906,1.27),(0.913,1.15),(0.921,0.95),(0.929,1.05),(0.937,1.15),(0.944,1.21),(0.952,1.10),(0.96,1.15),(0.967,1.05),(0.975,1.54),(0.979,1.05),(0.983,0.65)]
D3_R32 = [(0.002,0.40),(0.006,0.59),(0.01,0.79),(0.018,1.05),(0.026,1.27),(0.033,1.40),(0.041,1.54),(0.049,1.47),(0.064,1.40),(0.08,1.27),(0.095,1.10),(0.111,1.05),(0.126,0.95),(0.134,1.05),(0.142,1.10),(0.157,1.21),(0.173,1.15),(0.188,1.10),(0.204,1.15),(0.219,1.21),(0.235,1.40),(0.25,1.54),(0.262,1.47),(0.273,1.33),(0.281,1.27),(0.287,1.30),(0.289,40),(0.291,15.2),(0.293,7.8),(0.295,5.3),(0.297,4.4),(0.3,3.6),(0.304,3.0),(0.308,2.5),(0.316,2.05),(0.324,2.05),(0.331,1.86),(0.339,1.69),(0.347,1.54),(0.358,1.47),(0.37,1.40),(0.382,1.54),(0.39,1.61),(0.398,1.54),(0.405,1.40),(0.413,1.47),(0.421,1.33),(0.429,1.47),(0.436,1.54),(0.444,1.54),(0.452,1.61),(0.46,1.54),(0.467,1.54),(0.475,1.61),(0.483,1.54),(0.491,1.21),(0.498,1.27),(0.506,1.40),(0.514,1.54),(0.522,1.61),(0.529,1.54),(0.537,1.47),(0.545,1.54),(0.553,1.47),(0.56,1.54),(0.568,1.54),(0.576,1.61),(0.584,1.86),(0.591,1.78),(0.599,1.54),(0.607,1.47),(0.615,1.33),(0.622,1.54),(0.63,1.54),(0.642,1.61),(0.657,1.47),(0.673,1.33),(0.688,1.47),(0.704,1.61),(0.72,1.54),(0.735,1.54),(0.751,1.61),(0.766,1.69),(0.782,1.61),(0.797,1.47),(0.805,1.54),(0.813,1.54),(0.824,1.27),(0.832,1.61),(0.84,1.86),(0.847,1.78),(0.855,1.54),(0.863,1.47),(0.874,1.40),(0.882,1.69),(0.89,2.15),(0.898,1.86),(0.906,1.61),(0.913,1.86),(0.921,1.86),(0.929,1.69),(0.937,1.47),(0.944,1.47),(0.952,1.40),(0.96,1.47),(0.967,1.47),(0.975,1.40),(0.983,1.21)]

PANELS = [
    [D1_R01, D1_R03, D1_R10, D1_R32],
    [D2_R01, D2_R03, D2_R10, D2_R32],
    [D3_R01, D3_R03, D3_R10, D3_R32],
]

W, H = 860, 157
XS = alt.Scale(domain=[0, 1], nice=False, zero=False)
YS = alt.Scale(type="log", domain=[0.3, 30], nice=False)
SANS = "DejaVu Sans"
SERIF = "Liberation Serif"
LABEL_Y = [16, 20, 24]


def build_panel(idx, series_data):
    name = PANEL_NAMES[idx]
    bottom = idx == 2
    rows = []
    for s, pts in zip(SERIES, series_data):
        for t, q in pts:
            rows.append({"t": t, "Q": q, "series": s})
    df = pd.DataFrame(rows)

    if bottom:
        xaxis = alt.Axis(values=X_LABELS, format=".1f", ticks=False, domain=False, grid=False,
                         labelFont=SANS, labelFontSize=18, labelColor="black", labelPadding=4,
                         labelFlush=False, title="time (Gyrs)", titleFont=SERIF, titleFontSize=23,
                         titleFontWeight="normal", titleColor="black", titlePadding=5)
    else:
        xaxis = None
    yaxis = alt.Axis(values=Y_LABELS, labelExpr="datum.value == 1 ? '10⁰' : '10¹'",
                     ticks=False, domain=False, grid=False, labelFont=SANS, labelFontSize=20,
                     labelColor="black", labelPadding=7, title="Toomre Q", titleFont=SERIF,
                     titleFontSize=23, titleFontWeight="normal", titleColor="black", titlePadding=6)
    if idx == 0:
        leg = alt.Legend(title=None, orient="none", legendX=18, legendY=4, symbolType="stroke",
                         symbolSize=500, symbolStrokeWidth=1.5, labelFont=SANS, labelFontSize=15.5,
                         labelColor="black", labelOffset=18, rowPadding=1.8, padding=0)
    else:
        leg = None

    X = lambda f: alt.X(f, scale=XS, axis=xaxis)
    Y = lambda f: alt.Y(f, scale=YS, axis=yaxis)

    lines = alt.Chart(df).mark_line(strokeWidth=1.4, clip=True).encode(
        x=X("t:Q"), y=Y("Q:Q"),
        color=alt.Color("series:N", scale=alt.Scale(domain=SERIES, range=COLORS), legend=leg),
    )
    crit = alt.Chart(pd.DataFrame({"Q": [Q_CRIT]})).mark_rule(
        color="black", strokeWidth=2.5, strokeDash=[9, 6]
    ).encode(y=Y("Q:Q"))

    ymaj = pd.DataFrame({"Q": Y_LABELS})
    ymin = pd.DataFrame({"Q": Y_MINOR})
    xmaj = pd.DataFrame({"t": X_TICKS})

    def ytick(d, a, b, sw):
        return alt.Chart(d).mark_rule(color="black", strokeWidth=sw).encode(
            y=Y("Q:Q"), x=alt.value(a), x2=alt.value(b))

    def xtick(a, b):
        return alt.Chart(xmaj).mark_rule(color="black", strokeWidth=1.5).encode(
            x=X("t:Q"), y=alt.value(a), y2=alt.value(b))

    ticks = [
        ytick(ymaj, 0, 9, 1.5), ytick(ymaj, W - 9, W, 1.5),
        ytick(ymin, 0, 5, 1), ytick(ymin, W - 5, W, 1),
        xtick(0, 9), xtick(H - 9, H),
    ]
    label = alt.Chart(pd.DataFrame({"name": [name]})).mark_text(
        font=SANS, fontSize=22, color="black", align="center", baseline="middle"
    ).encode(text="name:N", x=alt.value(430), y=alt.value(LABEL_Y[idx]))

    return alt.layer(lines, crit, *ticks, label).properties(width=W, height=H)


panels = [build_panel(i, PANELS[i]) for i in range(3)]

chart = (
    alt.vconcat(*panels, spacing=0)
    .resolve_scale(color="independent")
    .resolve_legend(color="independent")
    .configure_view(stroke="black", strokeWidth=2.5)
    .properties(padding={"left": 0, "top": 0, "right": 10, "bottom": 0}, background="white")
)

chart.save("out.html", embed_options={"renderer": "svg", "actions": False})
